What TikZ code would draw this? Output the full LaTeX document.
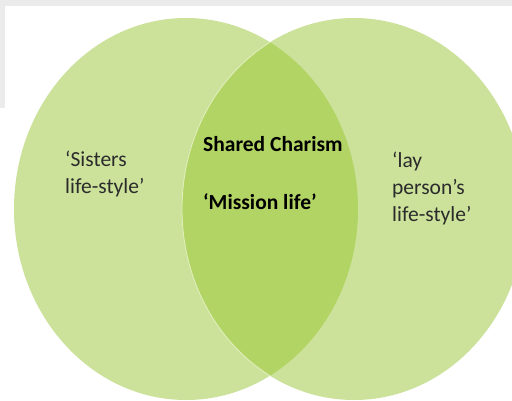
\documentclass[tikz,border=0pt]{standalone}
\usepackage{fontspec}
\setmainfont{Carlito}
\usepackage{tikz}
\definecolor{setgreen}{HTML}{CCE29B}
\definecolor{sharedgreen}{HTML}{B2D464}
\definecolor{rimgreen}{HTML}{E2F0BE}
\definecolor{shadegray}{HTML}{EBEBEB}
\definecolor{textgray}{HTML}{2B2B2B}
\tikzstyle{setshape} = [x radius=172pt, y radius=191pt]
\tikzstyle{sidetext} = [anchor=base west, align=left, inner sep=0pt, text=textgray, font=\fontsize{21.5}{27}\selectfont]
\tikzstyle{midtext} = [anchor=base west, inner sep=0pt, text=black, font=\fontsize{21.5}{27}\selectfont\bfseries]

\begin{document}
\begin{tikzpicture}[x=1pt, y=-1pt]
    \clip (0,0) rectangle (512,401);
    % paper and its shading
    \fill[white] (0,0) rectangle (512,401);
    \fill[shadegray] (0,0) rectangle (512,6);
    \fill[shadegray] (0,0) rectangle (5,108);
    % the two sets
    \fill[setgreen] (186,209) ellipse [setshape];
    \fill[setgreen] (354,209) ellipse [setshape];
    \begin{scope}
        \clip (186,209) ellipse [setshape];
        \fill[sharedgreen] (354,209) ellipse [setshape];
        \draw[rimgreen, line width=0.8pt] (354,209) ellipse [setshape];
    \end{scope}
    % texts (base is the last line)
    \node (sisters) [sidetext] at (65,194) {‘Sisters\\life-style’};
    \node (charism) [midtext] at (203,152) {Shared Charism};
    \node (mission) [midtext] at (203,210) {‘Mission life’};
    \node (lay) [sidetext] at (392,222) {‘lay\\person’s\\life-style’};
\end{tikzpicture}
\end{document}
